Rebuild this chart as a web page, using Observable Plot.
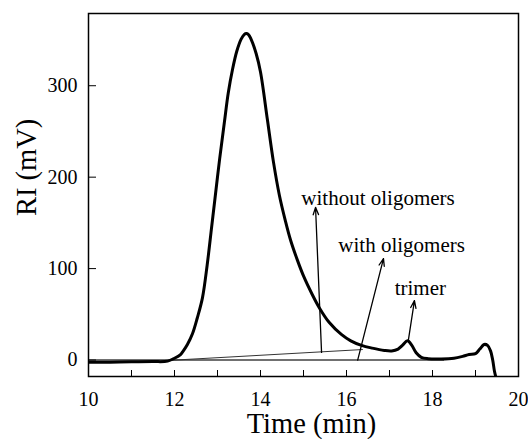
<!DOCTYPE html>
<html>
<head>
<meta charset="utf-8">
<script src="https://cdn.jsdelivr.net/npm/d3@7"></script>
<script src="https://cdn.jsdelivr.net/npm/@observablehq/plot@0.6"></script>
<style>
  html, body { margin: 0; padding: 0; background: #fff; }
  #chart { width: 528px; height: 439px; }
  #chart svg, #chart svg text { font-family: "Liberation Serif", "Times New Roman", serif !important; }
</style>
</head>
<body>
<div id="chart"></div>
<script>
// Chromatogram trace (time in min, RI in mV)
const times = [10.0, 10.5, 11.0, 11.5, 11.84, 12.0, 12.14, 12.19, 12.3, 12.42, 12.53, 12.65, 12.76, 12.86, 12.93, 13.05, 13.16, 13.25, 13.35, 13.45, 13.55, 13.62, 13.67, 13.72, 13.78, 13.9, 14.0, 14.16, 14.3, 14.44, 14.58, 14.7, 14.86, 15.0, 15.2, 15.37, 15.6, 15.88, 16.1, 16.35, 16.6, 16.88, 17.05, 17.2, 17.3, 17.42, 17.52, 17.62, 17.74, 17.9, 18.2, 18.5, 18.7, 18.85, 19.0, 19.1, 19.2, 19.28, 19.35, 19.4, 19.44, 19.47];
const ri = [-2.5, -2.3, -2.0, -1.7, -1.2, 2, 6, 9, 17, 29, 46, 68, 104, 144, 172, 220, 260, 292, 318, 338, 351, 356, 357, 356, 351, 335, 315, 263, 217, 180, 152, 131, 109, 92, 72, 57, 41, 28, 21, 16, 13, 10.5, 10, 12, 16, 21, 16, 8, 3, 1.5, 1.2, 2, 4, 6, 7, 12, 17, 16, 10, 0, -12, -18];

// Baselines: [x1, y1, x2, y2]
const baselineFlat = [10.0, 0, 18.27, 0];
const baselineSloped = [11.84, -0.5, 16.38, 11.5];

// Annotations
const arrowLabels = ["without oligomers", "with oligomers", "trimer"];
const arrowFromX = [15.42, 16.26, 17.44];
const arrowFromY = [8.3, 0, 22];
const arrowToX = [15.28, 16.86, 17.58];
const arrowToY = [167, 111, 65];
const labelX = [14.95, 15.81, 17.12];
const labelY = [170, 118.5, 71.5];

const xMajor = [10, 12, 14, 16, 18, 20];
const xMinor = [11, 13, 15, 17, 19];
const yTicks = [0, 100, 200, 300];

const trace = times.map((t, i) => ({t, v: ri[i]}));
const baselines = [baselineFlat, baselineSloped].map(([x1, y1, x2, y2], i) => ({x1, y1, x2, y2, i}));
const arrows = arrowLabels.map((label, i) => ({
  label, x1: arrowFromX[i], y1: arrowFromY[i], x2: arrowToX[i], y2: arrowToY[i], lx: labelX[i], ly: labelY[i]
}));

const font = "Liberation Serif";

const chart = Plot.plot({
  width: 528,
  height: 439,
  marginLeft: 88,
  marginRight: 10,
  marginTop: 13,
  marginBottom: 63,
  style: {fontFamily: font, background: "#fff", color: "#000"},
  x: {domain: [10, 20]},
  y: {domain: [-18, 379]},
  marks: [
    Plot.link(baselines.filter(d => d.i === 0), {x1: "x1", y1: "y1", x2: "x2", y2: "y2", stroke: "#707070", strokeWidth: 2}),
    Plot.link(baselines.filter(d => d.i === 1), {x1: "x1", y1: "y1", x2: "x2", y2: "y2", stroke: "#333", strokeWidth: 1}),
    Plot.line(trace, {x: "t", y: "v", stroke: "#000", strokeWidth: 3, curve: "catmull-rom", clip: true}),
    Plot.arrow(arrows, {x1: "x1", y1: "y1", x2: "x2", y2: "y2", stroke: "#000", strokeWidth: 1.3, headLength: 9, headAngle: 40}),
    Plot.text(arrows, {x: "lx", y: "ly", text: "label", textAnchor: "start", lineAnchor: "bottom", fontSize: 21, fontFamily: font, fill: "#000"}),
    Plot.axisX({ticks: xMajor, tickSize: -6, text: null, label: null, stroke: "#000"}),
    Plot.axisX({ticks: xMinor, tickSize: -6, text: null, label: null, stroke: "#000"}),
    Plot.axisX({ticks: xMajor, tickSize: 0, tickPadding: 15, label: null, fontSize: 20, fontFamily: font, tickFormat: d => String(d)}),
    Plot.axisY({ticks: yTicks, tickSize: -8, text: null, label: null, stroke: "#000"}),
    Plot.axisY({ticks: yTicks, tickSize: 0, tickPadding: 11, label: null, fontSize: 20, fontFamily: font, tickFormat: d => String(d)}),
    Plot.frame({stroke: "#000", strokeWidth: 1.5}),
    Plot.text(["Time (min)"], {frameAnchor: "bottom", dx: 8, dy: 56, lineAnchor: "bottom", fontSize: 28.5, fontFamily: font, fill: "#000"}),
    Plot.text(["RI (mV)"], {frameAnchor: "left", dx: -62, dy: 21, rotate: -90, lineAnchor: "middle", fontSize: 28.5, fontFamily: font, fill: "#000"})
  ]
});
document.getElementById("chart").appendChild(chart);
</script>
</body>
</html>
